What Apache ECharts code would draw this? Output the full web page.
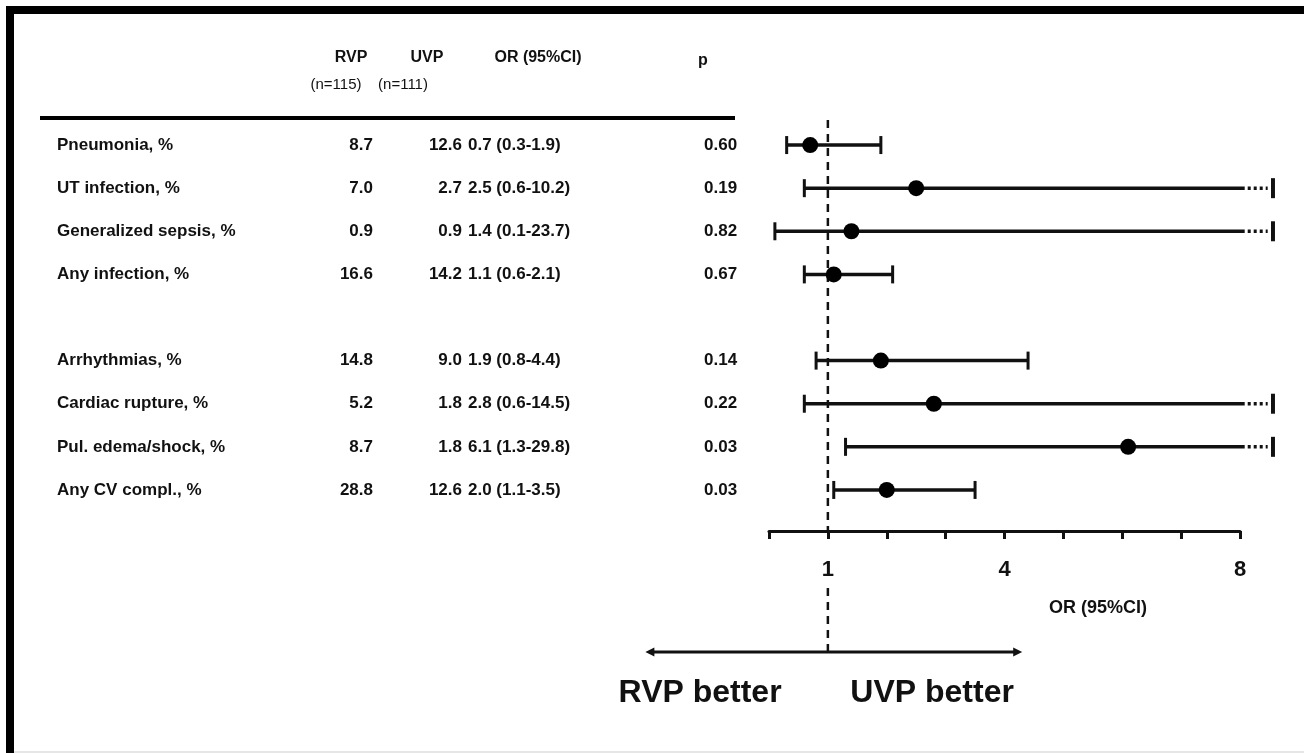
<!DOCTYPE html>
<html>
<head>
<meta charset="utf-8">
<script src="https://cdn.jsdelivr.net/npm/echarts@6/dist/echarts.min.js"></script>
<style>
html, body { margin: 0; padding: 0; background: #fff; }
#main { width: 1304px; height: 753px; }
</style>
</head>
<body>
<div id="main"></div>
<script>
// rows ('' = blank spacer row)
var labels = ['Pneumonia, %', 'UT infection, %', 'Generalized sepsis, %', 'Any infection, %', '',
    'Arrhythmias, %', 'Cardiac rupture, %', 'Pul. edema/shock, %', 'Any CV compl., %'];
var rvp = ['8.7', '7.0', '0.9', '16.6', '', '14.8', '5.2', '8.7', '28.8'];
var uvp = ['12.6', '2.7', '0.9', '14.2', '', '9.0', '1.8', '1.8', '12.6'];
var orText = ['0.7 (0.3-1.9)', '2.5 (0.6-10.2)', '1.4 (0.1-23.7)', '1.1 (0.6-2.1)', '',
    '1.9 (0.8-4.4)', '2.8 (0.6-14.5)', '6.1 (1.3-29.8)', '2.0 (1.1-3.5)'];
var pvals = ['0.60', '0.19', '0.82', '0.67', '', '0.14', '0.22', '0.03', '0.03'];
var orVal = [0.7, 2.5, 1.4, 1.1, null, 1.9, 2.8, 6.1, 2.0];
var ciLow = [0.3, 0.6, 0.1, 0.6, null, 0.8, 0.6, 1.3, 1.1];
var ciHigh = [1.9, 10.2, 23.7, 2.1, null, 4.4, 14.5, 29.8, 3.5];
var axisTicks = [1, 4, 8];
var axisMax = 8;
var cutAt = 8.56; // where truncated intervals stop

var FONT = '"Liberation Sans", Arial, sans-serif';

var ciData = [];
for (var i = 0; i < labels.length; i++) {
    if (orVal[i] == null) continue;
    ciData.push([ciLow[i], i, ciHigh[i], orVal[i]]);
}
var tableData = labels.map(function (l, i) { return [0, i]; });

function txt(x, y, s, font, align) {
    return {
        type: 'text',
        style: {
            x: x, y: y, text: s, font: font, fill: '#111',
            align: align, textAlign: align,
            verticalAlign: 'middle', textVerticalAlign: 'middle'
        }
    };
}
function head(x, y, s, font) {
    return { type: 'text', x: x, y: y, style: { text: s, font: font, fill: '#111', align: 'center', verticalAlign: 'middle' } };
}

var chart = echarts.init(document.getElementById('main'));

var option = {
    animation: false,
    backgroundColor: '#fff',
    grid: { left: 769, width: 471, top: 123.5, height: 388 },
    xAxis: {
        type: 'value', min: 0, max: axisMax, interval: 1,
        offset: 19.5,
        splitLine: { show: false },
        axisLine: { show: true, onZero: false, lineStyle: { color: '#111', width: 3 } },
        axisTick: { show: true, length: 8, lineStyle: { color: '#111', width: 3 } },
        axisLabel: {
            margin: 28, color: '#111', fontFamily: FONT, fontWeight: 'bold', fontSize: 22,
            formatter: function (v) { return axisTicks.indexOf(v) >= 0 ? String(v) : ''; }
        }
    },
    yAxis: {
        type: 'category', data: labels, inverse: true, show: false
    },
    graphic: [
        { type: 'rect', shape: { x: 6, y: 6, width: 1298, height: 8 }, style: { fill: '#000' } },
        { type: 'rect', shape: { x: 6, y: 6, width: 8, height: 747 }, style: { fill: '#000' } },
        { type: 'rect', shape: { x: 14, y: 751, width: 1290, height: 2 }, style: { fill: '#e6e6e6' } },
        { type: 'rect', shape: { x: 40, y: 116, width: 695, height: 4 }, style: { fill: '#000' } },
        head(351, 58, 'RVP', 'bold 16px ' + FONT),
        head(427, 58, 'UVP', 'bold 16px ' + FONT),
        head(538, 58, 'OR (95%CI)', 'bold 16px ' + FONT),
        head(703, 61, 'p', 'bold 16px ' + FONT),
        head(336, 85, '(n=115)', '15px ' + FONT),
        head(403, 85, '(n=111)', '15px ' + FONT),
        head(1098, 608, 'OR (95%CI)', 'bold 18px ' + FONT)
    ],
    series: [
        {
            // table cells
            type: 'custom',
            data: tableData,
            silent: true,
            renderItem: function (params, api) {
                var i = api.value(1);
                if (!labels[i]) return;
                var y = api.coord([0, i])[1];
                var f = 'bold 17px ' + FONT;
                return {
                    type: 'group',
                    children: [
                        txt(57, y, labels[i], f, 'left'),
                        txt(373, y, rvp[i], f, 'right'),
                        txt(462, y, uvp[i], f, 'right'),
                        txt(468, y, orText[i], f, 'left'),
                        txt(704, y, pvals[i], f, 'left')
                    ]
                };
            }
        },
        {
            // reference line at OR = 1 and direction arrows
            type: 'custom',
            data: [[1, 0]],
            silent: true,
            renderItem: function (params, api) {
                var c = api.coord([1, 0]);
                var band = api.size([0, 1])[1];
                var x = c[0];
                var yAx = c[1] + 8.5 * band + 19.5;
                var yArrow = c[1] + 507;
                var xl = api.coord([-2.1, 0])[0];
                var xr = api.coord([4.3, 0])[0];
                var dash = { stroke: '#111', lineWidth: 2.5, lineDash: [8, 6] };
                return {
                    type: 'group',
                    children: [
                        { type: 'line', shape: { x1: x, y1: c[1] - 25, x2: x, y2: yAx }, style: dash },
                        { type: 'line', shape: { x1: x, y1: yAx + 57, x2: x, y2: yArrow }, style: dash },
                        { type: 'line', shape: { x1: xl + 4, y1: yArrow, x2: xr - 4, y2: yArrow }, style: { stroke: '#111', lineWidth: 3 } },
                        { type: 'polygon', shape: { points: [[xl, yArrow], [xl + 9, yArrow - 4.5], [xl + 9, yArrow + 4.5]] }, style: { fill: '#111' } },
                        { type: 'polygon', shape: { points: [[xr, yArrow], [xr - 9, yArrow - 4.5], [xr - 9, yArrow + 4.5]] }, style: { fill: '#111' } },
                        txt(api.coord([-1.17, 0])[0], yArrow + 41, 'RVP better', 'bold 32px ' + FONT, 'center'),
                        txt(api.coord([2.77, 0])[0], yArrow + 41, 'UVP better', 'bold 32px ' + FONT, 'center')
                    ]
                };
            }
        },
        {
            // odds ratios with 95% CI
            type: 'custom',
            data: ciData,
            encode: { x: [0, 2, 3], y: 1 },
            renderItem: function (params, api) {
                var idx = api.value(1);
                var lo = api.coord([api.value(0), idx]);
                var hiVal = api.value(2);
                var truncated = hiVal > axisMax;
                var mid = api.coord([api.value(3), idx]);
                var y = lo[1];
                var h = 9;
                var kids = [];
                var line = { stroke: '#111', lineWidth: 3.5 };
                if (truncated) {
                    var solidEnd = api.coord([8.08, idx])[0];
                    var dotEnd = api.coord([8.47, idx])[0];
                    var cap = api.coord([cutAt, idx])[0];
                    kids.push({ type: 'line', shape: { x1: lo[0], y1: y, x2: solidEnd, y2: y }, style: line });
                    kids.push({ type: 'line', shape: { x1: solidEnd + 3, y1: y, x2: dotEnd, y2: y }, style: { stroke: '#111', lineWidth: 3.5, lineDash: [3, 3] } });
                    kids.push({ type: 'line', shape: { x1: cap, y1: y - h - 1, x2: cap, y2: y + h + 1 }, style: { stroke: '#111', lineWidth: 4 } });
                } else {
                    var hi = api.coord([hiVal, idx]);
                    kids.push({ type: 'line', shape: { x1: lo[0], y1: y, x2: hi[0], y2: y }, style: line });
                    kids.push({ type: 'line', shape: { x1: hi[0], y1: y - h, x2: hi[0], y2: y + h }, style: { stroke: '#111', lineWidth: 3 } });
                }
                kids.push({ type: 'line', shape: { x1: lo[0], y1: y - h, x2: lo[0], y2: y + h }, style: { stroke: '#111', lineWidth: 3 } });
                kids.push({ type: 'circle', shape: { cx: mid[0], cy: y, r: 8 }, style: { fill: '#000' } });
                return { type: 'group', children: kids };
            }
        }
    ]
};

chart.setOption(option);
</script>
</body>
</html>
